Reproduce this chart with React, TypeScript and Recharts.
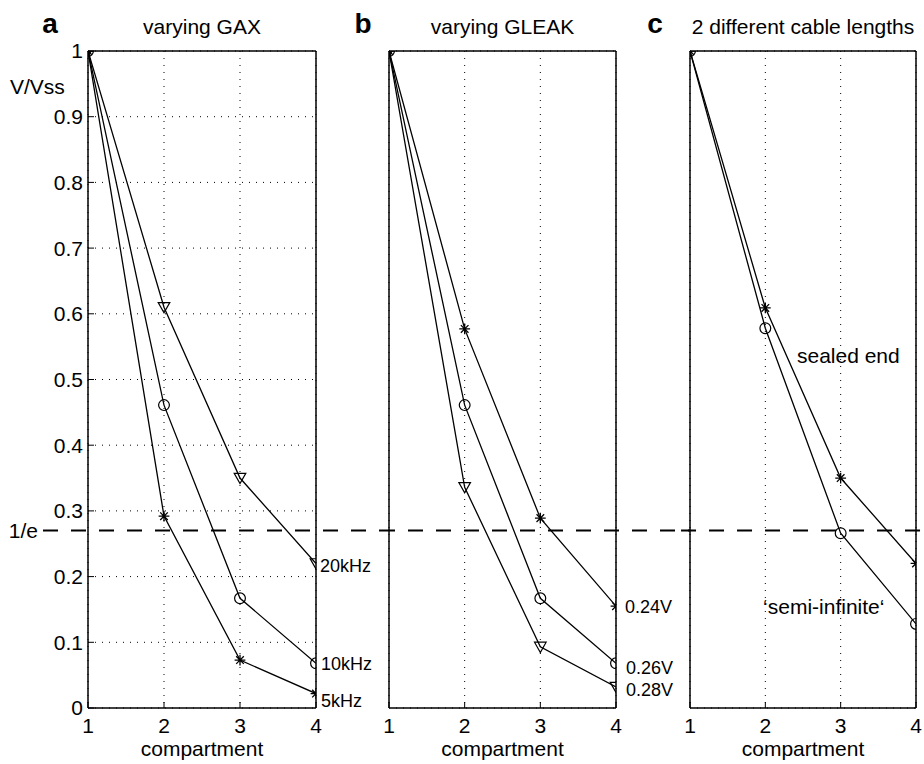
import React from "react";
import {
  LineChart,
  Line,
  XAxis,
  YAxis,
  CartesianGrid,
  ReferenceLine,
  ReferenceDot,
  LabelList,
} from "recharts";

// ---- data ----
const compartments = [1, 2, 3, 4];
const yTicks = [0, 0.1, 0.2, 0.3, 0.4, 0.5, 0.6, 0.7, 0.8, 0.9, 1];
const dashedLevel = 0.27;

// a: varying GAX
const gax20kHz = [1, 0.61, 0.35, 0.22];
const gax10kHz = [1, 0.461, 0.167, 0.068];
const gax5kHz = [1, 0.292, 0.073, 0.022];
const gaxLabels = ["20kHz", "10kHz", "5kHz"];

// b: varying GLEAK
const leak024 = [1, 0.577, 0.289, 0.155];
const leak026 = [1, 0.461, 0.167, 0.068];
const leak028 = [1, 0.336, 0.093, 0.032];
const leakLabels = ["0.24V", "0.26V", "0.28V"];

// c: two cable lengths
const sealedEnd = [1, 0.609, 0.35, 0.22];
const semiInfinite = [1, 0.578, 0.266, 0.128];
const cableLabels = ["sealed end", "\u2018semi-infinite\u2018"];
const cableLabelPos = [
  { x: 2.42, y: 0.536 },
  { x: 1.97, y: 0.155 },
];

// ---- layout ----
const FONT = '"Liberation Sans", Arial, Helvetica, sans-serif';
const CHART_H = 764;
const PLOT_TOP = 51;
const PLOT_BOTTOM = 708;

type Shape = "circle" | "triangle" | "star";

interface Series {
  key: string;
  values: number[];
  shape: Shape;
  endLabel?: string;
  dx?: number;
  dy?: number;
}

function Marker({ cx, cy, shape }: { cx?: number; cy?: number; shape: Shape }) {
  if (cx == null || cy == null) return <g />;
  if (shape === "circle")
    return <circle cx={cx} cy={cy} r={5.4} fill="none" stroke="#000" strokeWidth={1.2} />;
  if (shape === "triangle")
    return (
      <path
        d={`M${cx - 5.8},${cy - 4.7}L${cx + 5.8},${cy - 4.7}L${cx},${cy + 5.6}Z`}
        fill="none"
        stroke="#000"
        strokeWidth={1.2}
      />
    );
  const a = 5.4;
  const d = 3.8;
  return (
    <path
      d={`M${cx - a},${cy}H${cx + a}M${cx},${cy - a}V${cy + a}M${cx - d},${cy - d}L${cx + d},${cy + d}M${cx - d},${cy + d}L${cx + d},${cy - d}`}
      stroke="#000"
      strokeWidth={1.3}
      fill="none"
    />
  );
}

interface PanelProps {
  letter: string;
  letterDx: number;
  title: string;
  series: Series[];
  left: number;
  width: number;
  plotLeft: number;
  rightPad: number;
  showY?: boolean;
  dashFrom: number;
  dashTo: number;
  notes?: { text: string; x: number; y: number }[];
}

function Panel(p: PanelProps) {
  const rows = compartments.map((c, i) => {
    const row: Record<string, number> = { c };
    p.series.forEach((s) => (row[s.key] = s.values[i]));
    return row;
  });

  const axisLine = { stroke: "#000", strokeWidth: 1.5 };
  const tickLine = { stroke: "#000", strokeWidth: 1 };
  const tickFont = { fill: "#000", fontSize: 21, fontFamily: FONT };

  return (
    <div style={{ position: "absolute", left: p.left, top: 0 }}>
      <LineChart width={p.width} height={CHART_H} data={rows} margin={{ top: 0, right: 0, bottom: 0, left: 0 }}>
        <CartesianGrid stroke="#000" strokeDasharray="1 6" strokeWidth={1} />
        <XAxis
          dataKey="c"
          type="number"
          domain={[1, 4]}
          ticks={compartments}
          allowDataOverflow
          height={CHART_H - PLOT_BOTTOM}
          tickSize={-6}
          tickMargin={16}
          tick={tickFont}
          axisLine={axisLine}
          tickLine={tickLine}
          label={{
            content: ({ viewBox }: any) => (
              <text
                x={viewBox.x + viewBox.width / 2}
                y={viewBox.y + 48}
                textAnchor="middle"
                fontSize={21}
                fontFamily={FONT}
                fill="#000"
              >
                compartment
              </text>
            ),
          }}
        />
        <XAxis
          xAxisId="top"
          orientation="top"
          type="number"
          domain={[1, 4]}
          ticks={compartments}
          allowDataOverflow
          height={PLOT_TOP}
          tickSize={-6}
          tick={false}
          axisLine={axisLine}
          tickLine={tickLine}
          label={{
            content: ({ viewBox }: any) => (
              <g>
                <text
                  x={viewBox.x + p.letterDx}
                  y={33}
                  textAnchor="middle"
                  fontSize={28}
                  fontWeight="bold"
                  fontFamily={FONT}
                  fill="#000"
                >
                  {p.letter}
                </text>
                <text
                  x={viewBox.x + viewBox.width / 2}
                  y={34}
                  textAnchor="middle"
                  fontSize={21}
                  fontFamily={FONT}
                  fill="#000"
                >
                  {p.title}
                </text>
              </g>
            ),
          }}
        />
        <YAxis
          type="number"
          domain={[0, 1]}
          ticks={yTicks}
          allowDataOverflow
          width={p.plotLeft}
          tickSize={-6}
          tickMargin={11}
          tick={p.showY ? tickFont : false}
          axisLine={axisLine}
          tickLine={tickLine}
          label={
            p.showY
              ? {
                  content: ({ viewBox }: any) => (
                    <text x={10} y={viewBox.y + 43} fontSize={21} fontFamily={FONT} fill="#000">
                      V/Vss
                    </text>
                  ),
                }
              : undefined
          }
        />
        <YAxis
          yAxisId="right"
          orientation="right"
          type="number"
          domain={[0, 1]}
          ticks={yTicks}
          allowDataOverflow
          width={p.rightPad}
          tickSize={-6}
          tick={false}
          axisLine={axisLine}
          tickLine={tickLine}
        />
        <ReferenceLine
          segment={[
            { x: p.dashFrom, y: dashedLevel },
            { x: p.dashTo, y: dashedLevel },
          ]}
          ifOverflow="visible"
          stroke="#000"
          strokeWidth={2}
          strokeDasharray="15 13"
          label={
            p.showY
              ? { value: "1/e", position: "left", offset: 5, fontSize: 21, fontFamily: FONT, fill: "#000" }
              : undefined
          }
        />
        {p.series.map((s) => (
          <Line
            key={s.key}
            dataKey={s.key}
            type="linear"
            stroke="#000"
            strokeWidth={1.3}
            isAnimationActive={false}
            dot={(d: any) => <Marker key={`${s.key}-${d.index}`} cx={d.cx} cy={d.cy} shape={s.shape} />}
            activeDot={false}
          >
            {s.endLabel && (
              <LabelList
                dataKey={s.key}
                content={(l: any) =>
                  l.index === compartments.length - 1 ? (
                    <text
                      x={l.x + (s.dx ?? 4)}
                      y={l.y + (s.dy ?? 0) + 6.5}
                      fontSize={18}
                      fontFamily={FONT}
                      fill="#000"
                    >
                      {s.endLabel}
                    </text>
                  ) : null
                }
              />
            )}
          </Line>
        ))}
        {(p.notes ?? []).map((n) => (
          <ReferenceDot
            key={n.text}
            x={n.x}
            y={n.y}
            r={0}
            fill="none"
            stroke="none"
            ifOverflow="visible"
            label={{ value: n.text, position: "right", offset: 0, fontSize: 21, fontFamily: FONT, fill: "#000" }}
          />
        ))}
      </LineChart>
    </div>
  );
}

export default function App() {
  const gaxSeries: Series[] = [
    { key: "g20", values: gax20kHz, shape: "triangle", endLabel: gaxLabels[0], dx: 4, dy: 2.5 },
    { key: "g10", values: gax10kHz, shape: "circle", endLabel: gaxLabels[1], dx: 5, dy: 0 },
    { key: "g5", values: gax5kHz, shape: "star", endLabel: gaxLabels[2], dx: 5, dy: 6.5 },
  ];
  const leakSeries: Series[] = [
    { key: "l24", values: leak024, shape: "star", endLabel: leakLabels[0], dx: 9, dy: 0 },
    { key: "l26", values: leak026, shape: "circle", endLabel: leakLabels[1], dx: 10, dy: 4 },
    { key: "l28", values: leak028, shape: "triangle", endLabel: leakLabels[2], dx: 10, dy: 3 },
  ];
  const cableSeries: Series[] = [
    { key: "sealed", values: sealedEnd, shape: "star" },
    { key: "semi", values: semiInfinite, shape: "circle" },
  ];

  return (
    <div
      style={{
        position: "absolute",
        left: 0,
        top: 0,
        width: 924,
        height: 764,
        background: "#fff",
        fontFamily: FONT,
        overflow: "hidden",
      }}
    >
      <Panel
        letter="a"
        letterDx={-38}
        title="varying GAX"
        series={gaxSeries}
        left={0}
        width={380}
        plotLeft={88}
        rightPad={64}
        showY
        dashFrom={0.408}
        dashTo={4.842}
      />
      <Panel
        letter="b"
        letterDx={-26}
        title="varying GLEAK"
        series={leakSeries}
        left={340}
        width={350}
        plotLeft={49}
        rightPad={74}
        dashFrom={0.881}
        dashTo={4.978}
      />
      <Panel
        letter="c"
        letterDx={-35}
        title="2 different cable lengths"
        series={cableSeries}
        left={640}
        width={284}
        plotLeft={50}
        rightPad={8}
        dashFrom={0.881}
        dashTo={4.106}
        notes={cableLabels.map((t, i) => ({ text: t, x: cableLabelPos[i].x, y: cableLabelPos[i].y }))}
      />
    </div>
  );
}
